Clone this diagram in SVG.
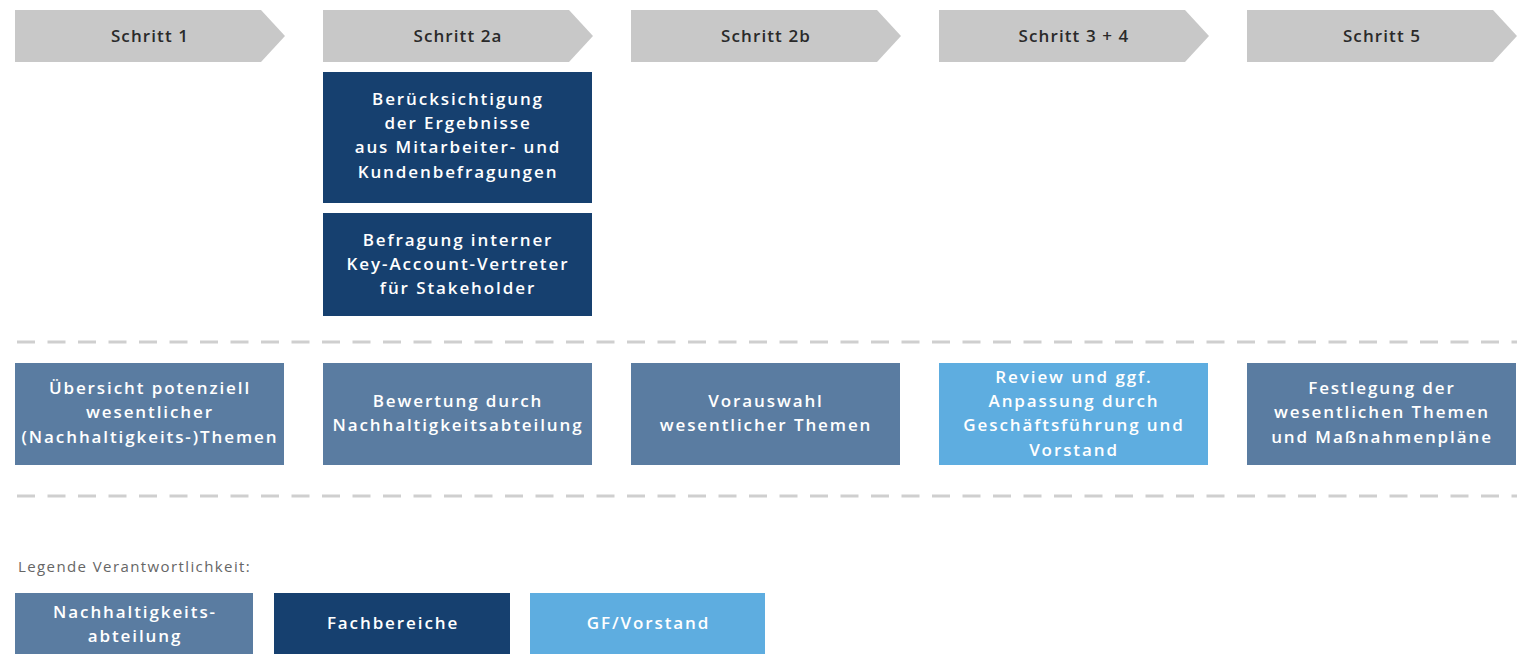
<svg xmlns="http://www.w3.org/2000/svg" width="1517" height="654" viewBox="0 0 1517 654">
<style>
.step{fill:#c8c8c8}
.steptxt{font-family:"Open Sans","Liberation Sans",sans-serif;font-weight:600;font-size:17px;letter-spacing:1.1px;fill:#2a2a2a;text-anchor:middle}
.dark{fill:#16406f}
.mid{fill:#5a7ca1}
.light{fill:#5eade0}
.t{font-family:"Open Sans","Liberation Sans",sans-serif;font-weight:600;font-size:17px;letter-spacing:1.9px;fill:#ffffff;text-anchor:middle}
.dash{stroke:#cfcfcf;stroke-width:3;stroke-dasharray:18 12.5;fill:none}
.leg{font-family:"Open Sans","Liberation Sans",sans-serif;font-weight:500;font-size:15px;letter-spacing:1.4px;fill:#666666}
</style>
<rect width="1517" height="654" fill="#ffffff"/>
<g id="step1"><polygon class="step" points="15,10 261,10 285,36 261,62 15,62"/><text class="steptxt" x="150" y="42">Schritt 1</text></g>
<g id="step2a"><polygon class="step" points="323,10 569,10 593,36 569,62 323,62"/><text class="steptxt" x="458" y="42">Schritt 2a</text></g>
<g id="step2b"><polygon class="step" points="631,10 877,10 901,36 877,62 631,62"/><text class="steptxt" x="766" y="42">Schritt 2b</text></g>
<g id="step34"><polygon class="step" points="939,10 1185,10 1209,36 1185,62 939,62"/><text class="steptxt" x="1074" y="42">Schritt 3 + 4</text></g>
<g id="step5"><polygon class="step" points="1247,10 1493,10 1517,36 1493,62 1247,62"/><text class="steptxt" x="1382" y="42">Schritt 5</text></g>

<g id="box2a1"><rect class="dark" x="323" y="72" width="269" height="131"/>
<text class="t"><tspan x="458" y="105">Berücksichtigung</tspan><tspan x="458" y="129">der Ergebnisse</tspan><tspan x="458" y="153">aus Mitarbeiter- und</tspan><tspan x="458" y="178">Kundenbefragungen</tspan></text></g>
<g id="box2a2"><rect class="dark" x="323" y="213" width="269" height="103"/>
<text class="t"><tspan x="458" y="246">Befragung interner</tspan><tspan x="458" y="270">Key-Account-Vertreter</tspan><tspan x="458" y="294">für Stakeholder</tspan></text></g>

<g id="connectors">
<line class="dash" x1="17" y1="342" x2="1517" y2="342"/>
<line class="dash" x1="17" y1="496" x2="1517" y2="496"/>
</g>

<g id="m1"><rect class="mid" x="15" y="363" width="269" height="102"/>
<text class="t"><tspan x="150" y="394">Übersicht potenziell</tspan><tspan x="150" y="418">wesentlicher</tspan><tspan x="150" y="443">(Nachhaltigkeits-)Themen</tspan></text></g>
<g id="m2"><rect class="mid" x="323" y="363" width="269" height="102"/>
<text class="t"><tspan x="458" y="407">Bewertung durch</tspan><tspan x="458" y="431">Nachhaltigkeitsabteilung</tspan></text></g>
<g id="m3"><rect class="mid" x="631" y="363" width="269" height="102"/>
<text class="t"><tspan x="766" y="407">Vorauswahl</tspan><tspan x="766" y="431">wesentlicher Themen</tspan></text></g>
<g id="m4"><rect class="light" x="939" y="363" width="269" height="102"/>
<text class="t"><tspan x="1074" y="383">Review und ggf.</tspan><tspan x="1074" y="407">Anpassung durch</tspan><tspan x="1074" y="431">Geschäftsführung und</tspan><tspan x="1074" y="456">Vorstand</tspan></text></g>
<g id="m5"><rect class="mid" x="1247" y="363" width="269" height="102"/>
<text class="t"><tspan x="1382" y="394">Festlegung der</tspan><tspan x="1382" y="418">wesentlichen Themen</tspan><tspan x="1382" y="443">und Maßnahmenpläne</tspan></text></g>

<g id="legend">
<text class="leg" x="18" y="572">Legende Verantwortlichkeit:</text>
<g id="leg1"><rect class="mid" x="15" y="593" width="238" height="61"/><text class="t"><tspan x="135" y="618">Nachhaltigkeits-</tspan><tspan x="135" y="642">abteilung</tspan></text></g>
<g id="leg2"><rect class="dark" x="274" y="593" width="236" height="61"/><text class="t" x="393" y="629">Fachbereiche</text></g>
<g id="leg3"><rect class="light" x="530" y="593" width="235" height="61"/><text class="t" x="648.5" y="629">GF/Vorstand</text></g>
</g>
</svg>
